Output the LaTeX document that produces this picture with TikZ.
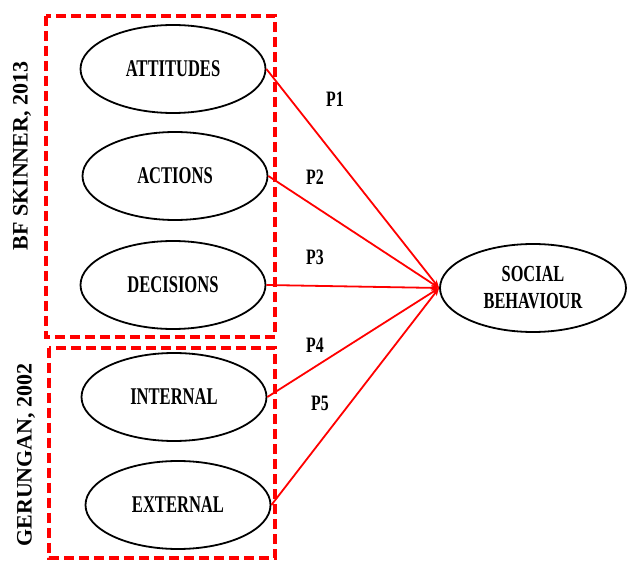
\documentclass[tikz,border=0pt]{standalone}
\usepackage{fontspec}
\setmainfont{Liberation Serif}
\newfontfamily\ellfont{Liberation Serif}[FakeStretch=0.69]
\newfontfamily\sbfont{Liberation Serif}[FakeStretch=0.71]
\newfontfamily\pfont{Liberation Serif}[FakeStretch=0.72]
\usetikzlibrary{shapes.geometric,arrows.meta}
\begin{document}
\begin{tikzpicture}[x=1pt,y=-1pt,
  ell/.style={ellipse,draw=black,line width=1.8pt,minimum width=185pt,minimum height=88pt,inner sep=0pt,
    font=\ellfont\bfseries\fontsize{24}{28}\selectfont},
  sbell/.style={ellipse,draw=black,line width=1.8pt,minimum width=186pt,minimum height=88pt,inner sep=0pt,align=center,
    font=\sbfont\bfseries\fontsize{23}{27}\selectfont},
  grp/.style={draw=red,line width=3.5pt,dash pattern=on 10pt off 5pt},
  conn/.style={draw=red,line width=1.8pt,-{Stealth[length=8pt,width=6pt]}},
  plab/.style={font=\pfont\bfseries\fontsize{22}{24}\selectfont,inner sep=0pt},
  side/.style={rotate=90,font=\bfseries\fontsize{22}{24}\selectfont,inner sep=0pt}]
\useasboundingbox (0,0) rectangle (630,561);
\draw[grp] (46,16) rectangle (275,337);
\draw[grp] (49,348) rectangle (275,558);
\node[side] (l1) at (22,156) {BF SKINNER, 2013};
\node[side] (l2) at (26,455) {GERUNGAN, 2002};
\node[ell] (att) at (173,69) {ATTITUDES};
\node[ell] (act) at (175,176) {ACTIONS};
\node[ell] (dec) at (173,285) {DECISIONS};
\node[ell] (int) at (174,397) {INTERNAL};
\node[ell] (ext) at (178,505) {EXTERNAL};
\node[sbell] (sb) at (533,288) {SOCIAL\\BEHAVIOUR};
\draw[conn] (att.east) -- (sb.west);
\draw[conn] (act.east) -- (sb.west);
\draw[conn] (dec.east) -- (sb.west);
\draw[conn] (int.east) -- (sb.west);
\draw[conn] (ext.east) -- (sb.west);
\node[plab] (p1) at (335,99) {P1};
\node[plab] (p2) at (315,177) {P2};
\node[plab] (p3) at (315,257) {P3};
\node[plab] (p4) at (315,345) {P4};
\node[plab] (p5) at (320,403) {P5};
\end{tikzpicture}
\end{document}
